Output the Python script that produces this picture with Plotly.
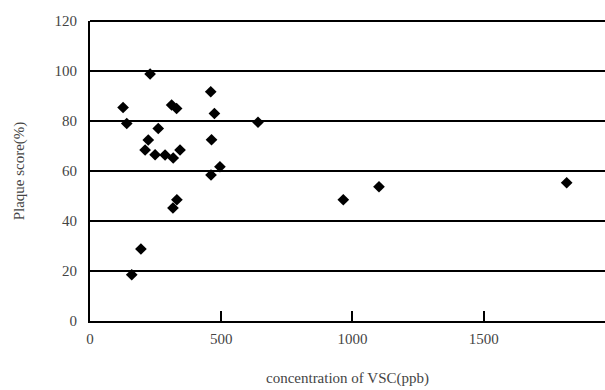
import plotly.graph_objects as go

vsc_ppb = [126, 140, 229, 159, 194, 331, 316, 311, 330, 260, 460, 474, 640, 463,
           222, 210, 248, 286, 317, 343, 495, 461, 965, 1101, 1816]
plaque_pct = [85.4, 79, 98.8, 18.5, 28.8, 48.5, 45.2, 86.4, 85, 77, 91.7, 83, 79.5, 72.5,
              72.4, 68.4, 66.5, 66.4, 65.2, 68.4, 61.7, 58.4, 48.5, 53.7, 55.3]

x_ticks = [0, 500, 1000, 1500]
x_tick_labels = ["0", "500", "1000", "1500"]
y_ticks = [0, 20, 40, 60, 80, 100, 120]
y_tick_labels = ["0", "20", "40", "60", "80", "100", "120"]

font = "Liberation Serif"

fig = go.Figure()
fig.add_trace(go.Scatter(
    x=vsc_ppb, y=plaque_pct, mode="markers",
    marker=dict(symbol="diamond", size=9, color="black"),
    showlegend=False,
))

fig.update_layout(
    width=605, height=390,
    margin=dict(l=90, r=0, t=21, b=69),
    plot_bgcolor="white", paper_bgcolor="white",
    font=dict(family=font, size=15, color="#444"),
    shapes=[dict(type="line", xref="paper", yref="paper", x0=0, x1=1, y0=1, y1=1,
                 line=dict(color="black", width=2))],
)
fig.update_xaxes(
    range=[0, 1962], tickvals=x_ticks, ticktext=x_tick_labels,
    showgrid=False, zeroline=False,
    showline=True, linecolor="black", linewidth=2,
    ticks="inside", ticklen=10, tickwidth=2, tickcolor="black",
    ticklabelstandoff=3,
    title=dict(text="concentration of VSC(ppb)", font=dict(family=font, size=15, color="#444"), standoff=26),
)
fig.update_yaxes(
    range=[0, 120], tickvals=y_ticks, ticktext=y_tick_labels,
    showgrid=True, gridcolor="black", gridwidth=1.5,
    zeroline=False,
    showline=True, linecolor="black", linewidth=2,
    ticks="", ticklabelstandoff=8,
    title=dict(text="Plaque score(%)", font=dict(family=font, size=15, color="#444"), standoff=26),
)

fig.write_html("out.html", config={"displayModeBar": False})
with open("out.html", "r", encoding="utf-8") as f:
    html = f.read()
html = html.replace("<body>", '<body style="margin:0;padding:0;overflow:hidden">', 1)
with open("out.html", "w", encoding="utf-8") as f:
    f.write(html)
